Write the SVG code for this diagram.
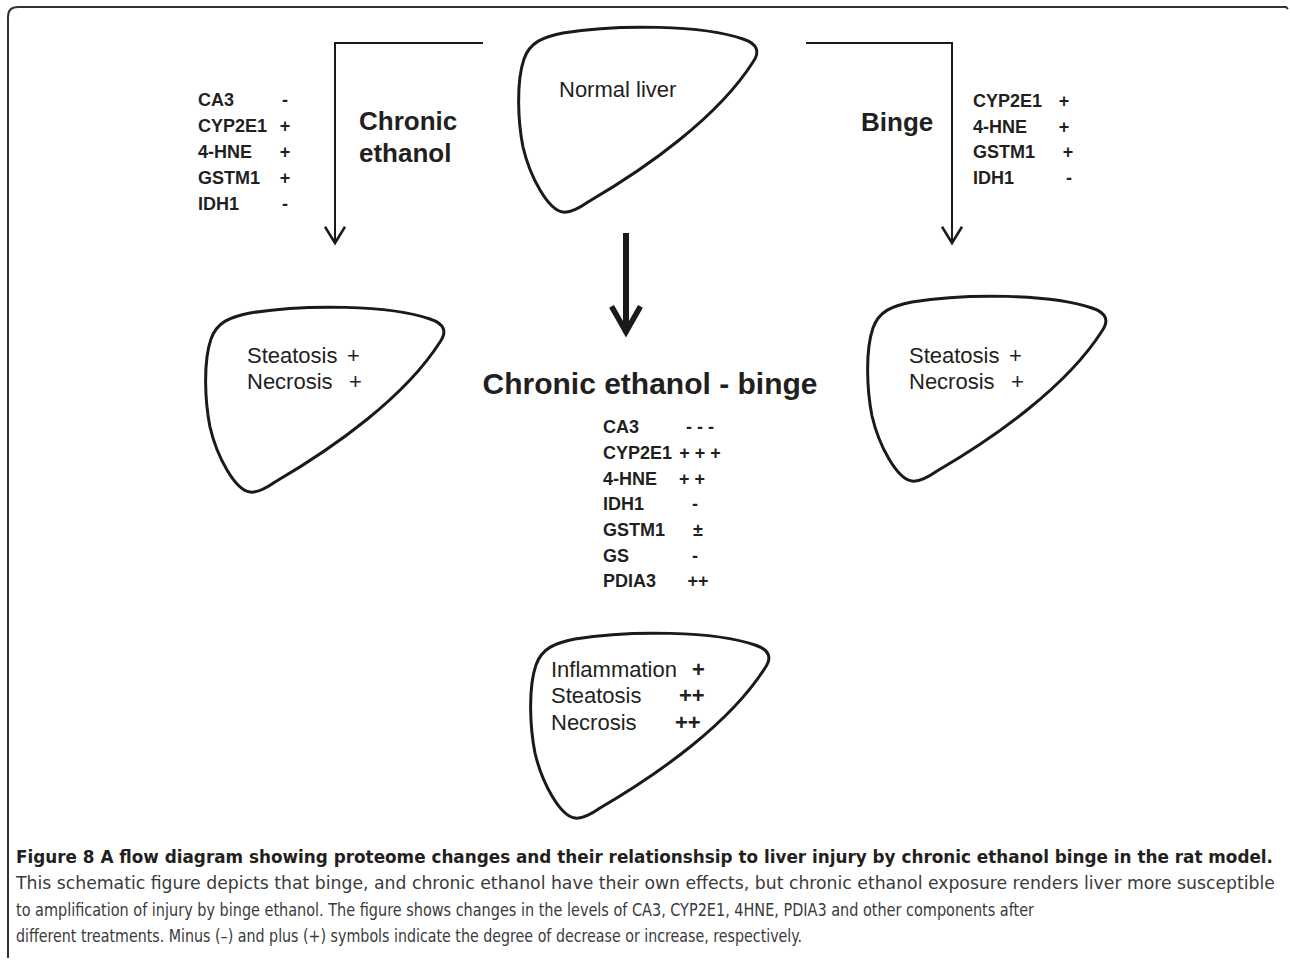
<svg xmlns="http://www.w3.org/2000/svg" width="1290" height="960" viewBox="0 0 1290 960">
<style>
.lv{fill:#fff;stroke:#1a1a1a;stroke-width:3;stroke-linejoin:round}
.t{font-family:"Liberation Sans",Arial,sans-serif;fill:#231f20}
.reg{font-size:22px}
.prot{font-size:18px;font-weight:bold}
.lab{font-size:26px;font-weight:bold}
.conn{fill:none;stroke:#1a1a1a;stroke-width:2}
.cap{font-family:"Liberation Sans Narrow","DejaVu Sans Condensed","Liberation Sans",sans-serif;font-size:18px}
</style>
<defs>
<path id="liver" class="lv" d="M45,185 C30,183 12,150 5,120 C0,95 -2,55 6,32 C12,15 25,10 45,6 C100,-3 185,-2 225,12 C240,17 242,25 235,35 C200,90 130,140 70,175 C60,182 52,186 45,185 Z"/>
<marker id="thin" markerUnits="userSpaceOnUse" markerWidth="30" markerHeight="30" refX="0" refY="0" viewBox="-16 -12 20 24" orient="auto">
<path d="M-13,-8 L0,0 L-13,8" fill="none" stroke="#1a1a1a" stroke-width="2"/>
</marker>
<marker id="thick" markerUnits="userSpaceOnUse" markerWidth="40" markerHeight="40" refX="0" refY="0" viewBox="-30 -18 36 36" orient="auto">
<path d="M-24,-13 L-1,0 L-24,13" fill="none" stroke="#1a1a1a" stroke-width="5"/>
</marker>
</defs>
<rect width="1290" height="960" fill="#fff"/>
<path d="M8,958 L8,17 Q8,7 18,7 L1286,7 L1288,9" fill="none" stroke="#333" stroke-width="2"/>

<g id="connectors">
<path class="conn" d="M483,43 L335,43 L335,243" marker-end="url(#thin)"/>
<path class="conn" d="M806,43 L952,43 L952,243" marker-end="url(#thin)"/>
<path d="M626,233 L626,333" fill="none" stroke="#1a1a1a" stroke-width="6" marker-end="url(#thick)"/>
</g>

<g id="normal-liver">
<use href="#liver" x="518" y="27"/>
<text class="t reg" x="559" y="97">Normal liver</text>
</g>

<g id="chronic-label">
<text class="t lab" x="359" y="130">Chronic</text>
<text class="t lab" x="359" y="162">ethanol</text>
</g>
<g id="chronic-proteins" class="t prot">
<text x="198" y="106">CA3</text>
<text x="198" y="132">CYP2E1</text>
<text x="198" y="158">4-HNE</text>
<text x="198" y="184">GSTM1</text>
<text x="198" y="210">IDH1</text>
<text x="285" y="106" text-anchor="middle">-</text>
<text x="285" y="132" text-anchor="middle">+</text>
<text x="285" y="158" text-anchor="middle">+</text>
<text x="285" y="184" text-anchor="middle">+</text>
<text x="285" y="210" text-anchor="middle">-</text>
</g>

<g id="binge-label">
<text class="t lab" x="861" y="131">Binge</text>
</g>
<g id="binge-proteins" class="t prot">
<text x="973" y="107">CYP2E1</text>
<text x="973" y="133">4-HNE</text>
<text x="973" y="158">GSTM1</text>
<text x="973" y="184">IDH1</text>
<text x="1064" y="107" text-anchor="middle">+</text>
<text x="1064" y="133" text-anchor="middle">+</text>
<text x="1068" y="158" text-anchor="middle">+</text>
<text x="1069" y="184" text-anchor="middle">-</text>
</g>

<g id="chronic-liver">
<use href="#liver" x="205" y="307"/>
<text class="t reg" x="247" y="363">Steatosis</text>
<text class="t reg" x="347" y="363">+</text>
<text class="t reg" x="247" y="389">Necrosis</text>
<text class="t reg" x="349" y="389">+</text>
</g>

<g id="binge-liver">
<use href="#liver" x="867" y="296"/>
<text class="t reg" x="909" y="363">Steatosis</text>
<text class="t reg" x="1009" y="363">+</text>
<text class="t reg" x="909" y="389">Necrosis</text>
<text class="t reg" x="1011" y="389">+</text>
</g>

<g id="combined-label">
<text class="t" x="650" y="394" text-anchor="middle" font-size="30" font-weight="bold">Chronic ethanol - binge</text>
</g>
<g id="combined-proteins" class="t prot">
<text x="603" y="433">CA3</text>
<text x="603" y="459">CYP2E1</text>
<text x="603" y="485">4-HNE</text>
<text x="603" y="510">IDH1</text>
<text x="603" y="536">GSTM1</text>
<text x="603" y="562">GS</text>
<text x="603" y="587">PDIA3</text>
<text x="700" y="433" text-anchor="middle">- - -</text>
<text x="700" y="459" text-anchor="middle">+ + +</text>
<text x="692" y="485" text-anchor="middle">+ +</text>
<text x="695" y="510" text-anchor="middle">-</text>
<text x="698" y="536" text-anchor="middle">±</text>
<text x="695" y="562" text-anchor="middle">-</text>
<text x="698" y="587" text-anchor="middle">++</text>
</g>

<g id="combined-liver">
<use href="#liver" x="530" y="633"/>
<text class="t reg" x="551" y="677">Inflammation</text>
<text class="t" x="692" y="677" font-size="22" font-weight="bold">+</text>
<text class="t reg" x="551" y="703">Steatosis</text>
<text class="t" x="679" y="703" font-size="22" font-weight="bold">++</text>
<text class="t reg" x="551" y="730">Necrosis</text>
<text class="t" x="675" y="730" font-size="22" font-weight="bold">++</text>
</g>

<g id="caption">
<text class="cap" x="16" y="863" font-weight="bold" fill="#231f20" textLength="1257" lengthAdjust="spacingAndGlyphs">Figure 8 A flow diagram showing proteome changes and their relationshsip to liver injury by chronic ethanol binge in the rat model.</text>
<text class="cap" x="16" y="889" fill="#3a3a3a" textLength="1259" lengthAdjust="spacingAndGlyphs">This schematic figure depicts that binge, and chronic ethanol have their own effects, but chronic ethanol exposure renders liver more susceptible</text>
<text class="cap" x="16" y="916" fill="#3a3a3a" textLength="1018" lengthAdjust="spacingAndGlyphs">to amplification of injury by binge ethanol. The figure shows changes in the levels of CA3, CYP2E1, 4HNE, PDIA3 and other components after</text>
<text class="cap" x="16" y="942" fill="#3a3a3a" textLength="786" lengthAdjust="spacingAndGlyphs">different treatments. Minus (–) and plus (+) symbols indicate the degree of decrease or increase, respectively.</text>
</g>
</svg>
